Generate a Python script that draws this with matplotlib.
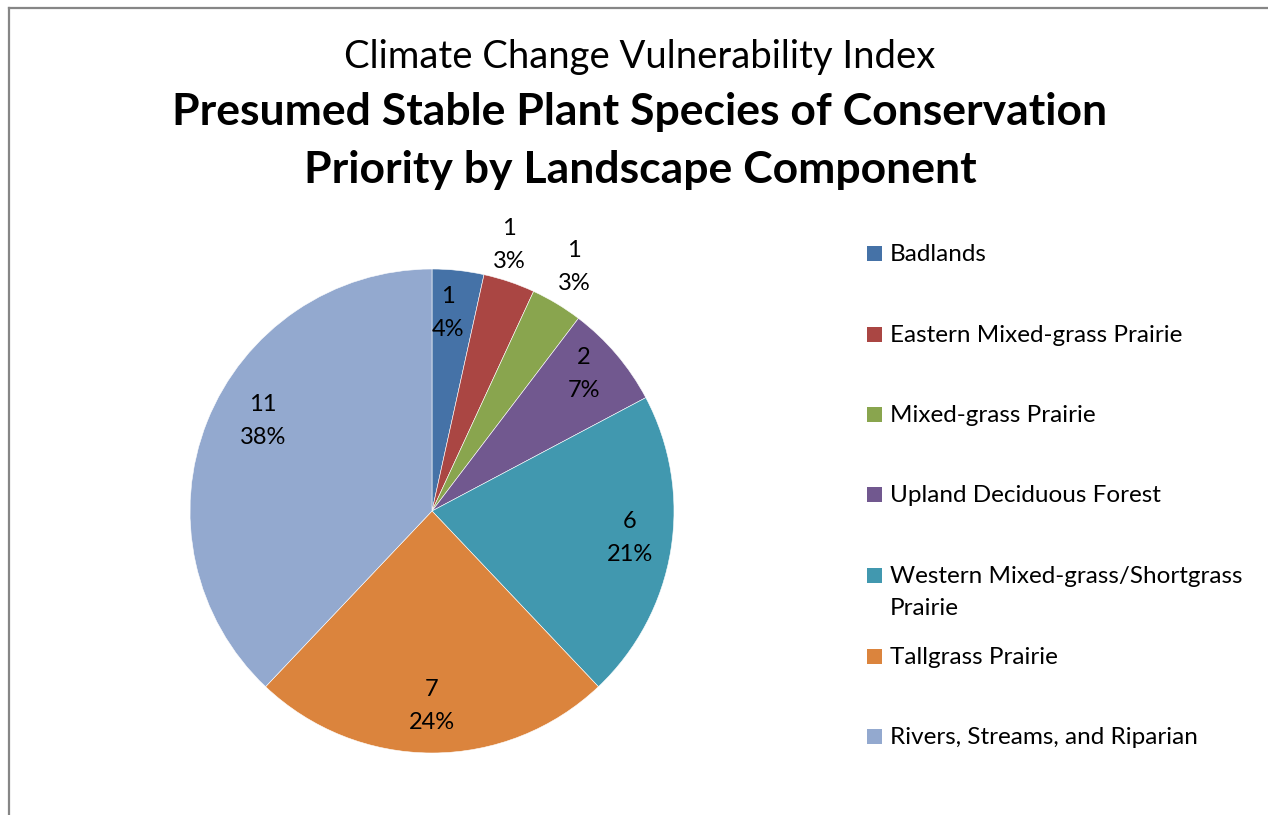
import matplotlib.pyplot as plt
import numpy as np
from matplotlib.patches import Rectangle
from matplotlib.lines import Line2D

plt.rcParams['font.family'] = ['Lato', 'DejaVu Sans']

components = [
    "Badlands",
    "Eastern Mixed-grass Prairie",
    "Mixed-grass Prairie",
    "Upland Deciduous Forest",
    "Western Mixed-grass/Shortgrass\nPrairie",
    "Tallgrass Prairie",
    "Rivers, Streams, and Riparian",
]
counts = [1, 1, 1, 2, 6, 7, 11]
pct_labels = ["4%", "3%", "3%", "7%", "21%", "24%", "38%"]
colors = ["#4572A7", "#AA4643", "#89A54E", "#71588F", "#4198AF", "#DB843D", "#93A9CF"]

# data label placement: fraction of radius and angle nudge (deg) from wedge middle
label_r = [0.82, 1.145, 1.167, 0.846, 0.826, 0.806, 0.79]
label_da = [1.6, 2.5, 0.8, 1.7, 1.5, 0.0, -6.3]

W, H = 1268, 815
fig = plt.figure(figsize=(W / 100, H / 100), dpi=100)


def fy(y):
    # pixel row from the top -> figure fraction
    return 1 - y / H


# chart area frame (only top and left edges fall inside the image)
fig.add_artist(Line2D([8.5 / W, 8.5 / W], [0, fy(7.5)], color="#868686", lw=1.6))
fig.add_artist(Line2D([8.5 / W, 1], [fy(7.5), fy(7.5)], color="#868686", lw=1.6))

fig.text(640 / W, fy(68), "Climate Change Vulnerability Index",
         ha="center", va="baseline", fontsize=27.5)
fig.text(640 / W, fy(125), "Presumed Stable Plant Species of Conservation",
         ha="center", va="baseline", fontsize=32, fontweight="bold")
fig.text(640 / W, fy(183), "Priority by Landscape Component",
         ha="center", va="baseline", fontsize=32, fontweight="bold")

cx, cy, r = 432, 511, 242
ax = fig.add_axes([(cx - r) / W, (H - cy - r) / H, 2 * r / W, 2 * r / H])
wedges, _ = ax.pie(counts, colors=colors, startangle=90, counterclock=False,
                   radius=1, wedgeprops=dict(edgecolor="white", linewidth=0.4))
ax.set_xlim(-1, 1)
ax.set_ylim(-1, 1)
ax.axis("off")

for w, n, p, lr, da in zip(wedges, counts, pct_labels, label_r, label_da):
    mid = np.deg2rad((w.theta1 + w.theta2) / 2 + da)
    ax.text(lr * np.cos(mid), lr * np.sin(mid), f"{n}\n{p}",
            ha="center", va="center", fontsize=17, linespacing=1.7)

# legend, one slot per entry
leg_base = [261, 341.5, 422, 502, 583, 663.5, 744]
for name, c, y in zip(components, colors, leg_base):
    fig.add_artist(Rectangle((867 / W, fy(y)), 15 / W, 15 / H,
                             facecolor=c, edgecolor="none"))
    for i, line in enumerate(name.split("\n")):
        fig.text(890 / W, fy(y + 32 * i), line, ha="left", va="baseline",
                 fontsize=17.5)

fig.savefig("out.png", dpi=100)
